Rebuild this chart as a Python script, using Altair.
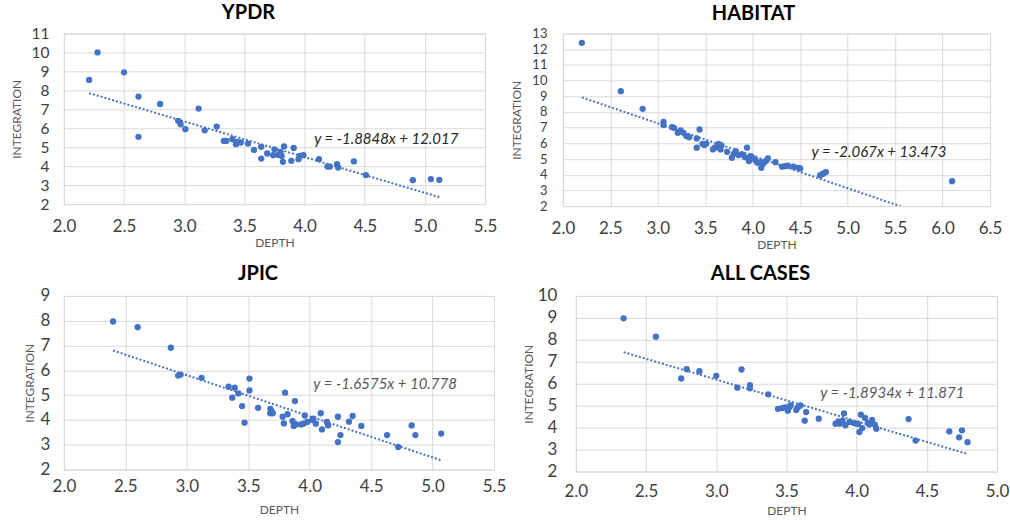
import altair as alt
import pandas as pd

FONT = "Lato"
BLUE = "#4472C4"
GRID = "#d9d9d9"

# ---------------- data ----------------
ypdr_depth = [2.21, 2.28, 2.50, 2.62, 2.62, 2.80, 2.95, 2.97, 3.01, 3.12, 3.17, 3.27,
              3.33, 3.35, 3.40, 3.43, 3.44, 3.47, 3.53, 3.58, 3.64, 3.64, 3.69, 3.74,
              3.75, 3.78, 3.80, 3.82, 3.83, 3.81, 3.89, 3.91, 3.95, 3.96, 3.99, 4.12,
              4.19, 4.21, 4.27, 4.28, 4.41, 4.51, 4.90, 5.05, 5.12]
ypdr_integration = [8.55, 10.0, 8.95, 7.67, 5.55, 7.28, 6.39, 6.21, 5.95, 7.04, 5.89, 6.09,
                    5.33, 5.33, 5.42, 5.16, 5.28, 5.25, 5.19, 4.86, 4.40, 5.02, 4.67, 4.58,
                    4.89, 4.60, 4.75, 4.23, 5.04, 4.54, 4.28, 4.96, 4.37, 4.54, 4.58, 4.37,
                    3.98, 3.98, 4.11, 3.93, 4.25, 3.53, 3.26, 3.32, 3.28]

habitat_depth = [2.20, 2.61, 2.84, 3.06, 3.06, 3.15, 3.17, 3.21, 3.24, 3.27, 3.30, 3.33,
                 3.41, 3.44, 3.41, 3.47, 3.49, 3.51, 3.58, 3.60, 3.62, 3.64, 3.66, 3.67,
                 3.73, 3.78, 3.80, 3.82, 3.85, 3.89, 3.92, 3.94, 3.96, 3.98, 4.00, 4.03,
                 4.05, 4.09, 4.09, 4.11, 4.14, 4.16, 4.24, 4.31, 4.34, 4.37, 4.43, 4.48,
                 4.50, 4.71, 4.74, 4.77, 6.10]
habitat_integration = [12.40, 9.32, 8.20, 7.37, 7.16, 7.03, 6.99, 6.67, 6.82, 6.67, 6.46, 6.39,
                       6.31, 6.88, 5.72, 5.97, 5.89, 5.97, 5.61, 5.72, 5.76, 5.97, 5.61, 5.86,
                       5.46, 5.08, 5.33, 5.50, 5.25, 5.29, 5.12, 5.72, 4.87, 5.18, 5.08, 4.91,
                       4.76, 4.80, 4.44, 4.70, 4.87, 5.04, 4.80, 4.51, 4.55, 4.57, 4.51, 4.44,
                       4.40, 3.97, 4.06, 4.17, 3.59]

jpic_depth = [2.40, 2.60, 2.87, 2.93, 2.95, 3.12, 3.34, 3.37, 3.39, 3.42, 3.45, 3.47,
              3.51, 3.51, 3.58, 3.68, 3.68, 3.69, 3.70, 3.78, 3.79, 3.80, 3.82, 3.86,
              3.87, 3.88, 3.89, 3.93, 3.95, 3.96, 3.98, 4.02, 4.03, 4.05, 4.09, 4.10,
              4.14, 4.15, 4.23, 4.23, 4.25, 4.32, 4.35, 4.42, 4.63, 4.72, 4.83, 4.86, 5.07]
jpic_integration = [7.97, 7.74, 6.91, 5.79, 5.83, 5.70, 5.34, 4.90, 5.30, 5.07, 4.56, 3.89,
                    5.67, 5.19, 4.49, 4.45, 4.27, 4.36, 4.27, 4.13, 3.86, 5.10, 4.23, 3.96,
                    3.76, 4.76, 3.82, 3.82, 3.85, 4.18, 3.92, 4.00, 4.05, 3.85, 4.27, 3.62,
                    3.92, 3.78, 4.13, 3.11, 3.39, 3.93, 4.16, 3.76, 3.39, 2.91, 3.78, 3.39, 3.45]

all_depth = [2.34, 2.57, 2.75, 2.79, 2.88, 3.00, 3.15, 3.18, 3.24, 3.24, 3.37, 3.44,
             3.47, 3.49, 3.51, 3.52, 3.53, 3.57, 3.58, 3.60, 3.64, 3.63, 3.73, 3.85,
             3.87, 3.88, 3.90, 3.91, 3.92, 3.95, 3.98, 4.00, 4.01, 4.02, 4.03, 4.04,
             4.06, 4.08, 4.09, 4.11, 4.13, 4.14, 4.37, 4.42, 4.66, 4.73, 4.75, 4.79]
all_integration = [8.98, 8.14, 6.24, 6.66, 6.57, 6.36, 5.82, 6.65, 5.94, 5.79, 5.52, 4.86,
                   4.89, 4.92, 4.77, 4.93, 5.01, 4.80, 4.92, 5.01, 4.71, 4.32, 4.41, 4.18,
                   4.29, 4.18, 4.32, 4.65, 4.11, 4.26, 4.21, 4.18, 4.17, 3.80, 4.59, 3.98,
                   4.44, 4.21, 4.14, 4.35, 4.14, 3.95, 4.39, 3.41, 3.83, 3.56, 3.88, 3.34]

titles = ["YPDR", "HABITAT", "JPIC", "ALL CASES"]
slopes = [-1.8848, -2.067, -1.6575, -1.8934]
intercepts = [12.017, 13.473, 10.778, 11.871]
equations = ["y = -1.8848x + 12.017", "y = -2.067x + 13.473",
             "y = -1.6575x + 10.778", "y = -1.8934x + 11.871"]
eq_pos_x = [4.08, 4.62, 4.03, 3.74]
eq_pos_y = [5.45, 5.44, 5.46, 5.59]
x_domains = [[2.0, 5.5], [2.0, 6.5], [2.0, 5.5], [2.0, 5.0]]
y_domains = [[2, 11], [2, 13], [2, 9], [2, 10]]
x_tick_values = [[2.0, 2.5, 3.0, 3.5, 4.0, 4.5, 5.0, 5.5],
                 [2.0, 2.5, 3.0, 3.5, 4.0, 4.5, 5.0, 5.5, 6.0, 6.5],
                 [2.0, 2.5, 3.0, 3.5, 4.0, 4.5, 5.0, 5.5],
                 [2.0, 2.5, 3.0, 3.5, 4.0, 4.5, 5.0]]
y_tick_values = [list(range(2, 12)), list(range(2, 14)), list(range(2, 10)), list(range(2, 11))]

series = [(ypdr_depth, ypdr_integration), (habitat_depth, habitat_integration),
          (jpic_depth, jpic_integration), (all_depth, all_integration)]

# layout / style per panel
sizes = [(422, 171), (428, 173), (431, 174), (422, 176)]
eq_colors = ["#262626", "#262626", "#595959", "#595959"]
title_dx = [-26, -23, -21, -26]
y_label_size = [15.5, 13, 17, 17]
y_label_pad = [15, 16, 14, 19]
y_title_pad = [7, 8, 4, 2]
x_label_pad = [14, 14, 9, 12]
x_title_pad = [3, 3, 10, 6]


def panel(i):
    xs, ys = series[i]
    df = pd.DataFrame({"DEPTH": xs, "INTEGRATION": ys})
    lo, hi = min(xs), max(xs)
    trend = pd.DataFrame({"DEPTH": [lo, hi],
                          "INTEGRATION": [slopes[i] * lo + intercepts[i],
                                          slopes[i] * hi + intercepts[i]]})
    eq = pd.DataFrame({"DEPTH": [eq_pos_x[i]], "INTEGRATION": [eq_pos_y[i]],
                       "label": [equations[i]]})

    xscale = alt.Scale(domain=x_domains[i], nice=False, zero=False)
    yscale = alt.Scale(domain=y_domains[i], nice=False, zero=False)
    xaxis = alt.Axis(title="DEPTH", values=x_tick_values[i], format=".1f",
                     labelPadding=x_label_pad[i], titlePadding=x_title_pad[i],
                     labelOverlap=False)
    yaxis = alt.Axis(title="INTEGRATION", values=y_tick_values[i], format="d",
                     labelPadding=y_label_pad[i], titlePadding=y_title_pad[i],
                     labelFontSize=y_label_size[i], labelOverlap=False)
    enc_x = alt.X("DEPTH:Q", scale=xscale, axis=xaxis)
    enc_y = alt.Y("INTEGRATION:Q", scale=yscale, axis=yaxis)

    pts = alt.Chart(df).mark_circle(size=40, color=BLUE, opacity=1).encode(x=enc_x, y=enc_y)
    line = alt.Chart(trend).mark_line(color=BLUE, strokeWidth=2, strokeDash=[2, 2],
                                      clip=True).encode(x=enc_x, y=enc_y)
    txt = alt.Chart(eq).mark_text(align="left", baseline="middle", font=FONT,
                                  fontSize=15, fontStyle="italic",
                                  color=eq_colors[i]).encode(x=enc_x, y=enc_y, text="label:N")
    w, h = sizes[i]
    return alt.layer(pts, line, txt).properties(
        width=w, height=h,
        title=alt.TitleParams(titles[i], font=FONT, fontSize=20, fontWeight="bold",
                              color="#000000", offset=3, dx=title_dx[i]))


row1 = alt.hconcat(panel(0), panel(1), spacing=12)
row2 = alt.hconcat(panel(2), panel(3), spacing=14)
chart = alt.vconcat(row1, row2, spacing=12).properties(
    padding={"left": 10, "top": 2, "right": 0, "bottom": 0},
    background="white",
).configure_view(stroke=GRID, strokeWidth=1).configure_axis(
    grid=True, gridColor=GRID, gridWidth=1, domain=False, ticks=False, tickSize=0,
    labelFont=FONT, labelFontSize=17, labelColor="#404040",
    titleFont=FONT, titleFontSize=12, titleFontWeight="normal", titleColor="#595959",
).configure_axisX(labelFlush=False).configure_axisY(labelFlush=False)

chart.save("out.html", embed_options={"renderer": "svg", "actions": False})
